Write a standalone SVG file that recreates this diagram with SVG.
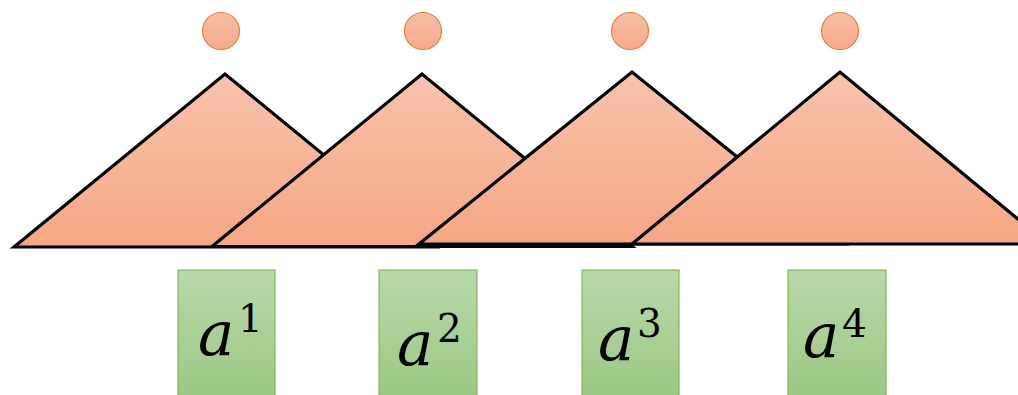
<svg xmlns="http://www.w3.org/2000/svg" width="1018" height="395" viewBox="0 0 1018 395">
  <defs>
    <linearGradient id="gTri" x1="0" y1="0" x2="0" y2="1">
      <stop offset="0" stop-color="#F7C3AD"/>
      <stop offset="1" stop-color="#F5A783"/>
    </linearGradient>
    <linearGradient id="gCirc" x1="0" y1="0" x2="0" y2="1">
      <stop offset="0" stop-color="#F5BFA8"/>
      <stop offset="1" stop-color="#F4AA89"/>
    </linearGradient>
    <linearGradient id="gBox" x1="0" y1="0" x2="0" y2="1">
      <stop offset="0" stop-color="#B8D8A9"/>
      <stop offset="1" stop-color="#9BC883"/>
    </linearGradient>
  </defs>
  <style>
    .tri { fill: url(#gTri); stroke: #000; stroke-width: 3.2; stroke-linejoin: miter; }
    .circ { fill: url(#gCirc); stroke: #ED7D31; stroke-width: 1.2; }
    .box { fill: url(#gBox); stroke: #70AD47; stroke-width: 1; }
    .var { font-family: "DejaVu Serif", serif; font-style: italic; font-size: 61px; fill: #000; }
    .sup { font-family: "DejaVu Serif", serif; font-size: 39px; fill: #000; }
  </style>

  <g id="tree1">
    <polygon class="tri" points="14,247 225,74 436,247"/>
    <circle class="circ" cx="221" cy="31" r="18.5"/>
  </g>
  <g id="tree2">
    <polygon class="tri" points="212,246.5 422,74 632,246.5"/>
    <circle class="circ" cx="423" cy="31" r="18.5"/>
  </g>
  <g id="tree3">
    <polygon class="tri" points="419,244 632,72 845,244"/>
    <circle class="circ" cx="630" cy="31" r="18.5"/>
  </g>
  <g id="tree4">
    <polygon class="tri" points="632,244 840,72 1048,244"/>
    <circle class="circ" cx="840" cy="31" r="18.5"/>
  </g>

  <g id="a1">
    <rect class="box" x="178" y="270" width="97" height="130"/>
    <text class="var" x="198" y="355">a</text>
    <text class="sup" x="238" y="332">1</text>
  </g>
  <g id="a2">
    <rect class="box" x="379" y="270" width="98" height="130"/>
    <text class="var" x="397" y="365">a</text>
    <text class="sup" x="437" y="342">2</text>
  </g>
  <g id="a3">
    <rect class="box" x="582" y="270" width="97" height="130"/>
    <text class="var" x="598" y="360">a</text>
    <text class="sup" x="637" y="337">3</text>
  </g>
  <g id="a4">
    <rect class="box" x="788" y="270" width="98" height="130"/>
    <text class="var" x="803" y="357">a</text>
    <text class="sup" x="842" y="337">4</text>
  </g>
</svg>
